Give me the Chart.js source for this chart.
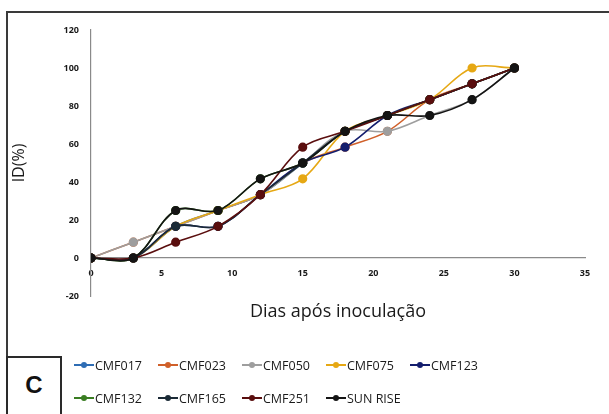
<!DOCTYPE html>
<html><head><meta charset="utf-8">
<script src="https://cdn.jsdelivr.net/npm/chart.js@4/dist/chart.umd.min.js"></script>
<style>
html,body{margin:0;padding:0;background:#fff;}
#wrap{position:relative;width:609px;height:414px;overflow:hidden;background:#fff;}
#frame{position:absolute;left:6px;top:11px;width:700px;height:500px;border-left:2px solid #3a3a3a;border-top:2px solid #3a3a3a;}
#cbox{position:absolute;left:6px;top:356px;width:52px;height:80px;border:2px solid #2a2a2a;background:#fff;}
#cbox span{position:absolute;left:0;width:52px;top:13px;text-align:center;font:bold 24px "Liberation Sans",Arial,sans-serif;color:#111;}
canvas{position:absolute;left:0;top:0;}
.li{position:absolute;height:16px;display:flex;align-items:center;font:12.5px "Open Sans",sans-serif;color:#1a1a1a;white-space:nowrap;}
.li .ln{position:relative;width:20px;height:2px;margin-right:1px;}
.li .dt{position:absolute;left:7px;top:-2px;width:6px;height:6px;border-radius:50%;}
</style></head>
<body>
<div id="wrap">
<div id="frame"></div>
<div id="cbox"><span>C</span></div>
<canvas id="c" width="609" height="414"></canvas>
<div id="legend"></div>
</div>
<script>
const days = [0,3,6,9,12,15,18,21,24,27,30];
const seriesNames = ["CMF017","CMF023","CMF050","CMF075","CMF123","CMF132","CMF165","CMF251","SUN RISE"];
const CMF017  = [0,0,16.67,25,33.33,50,66.67,75,83.33,91.67,100];
const CMF023  = [0,8.33,16.67,25,33.33,50,58.33,66.67,83.33,91.67,100];
const CMF050  = [0,8.33,16.67,25,33.33,50,66.67,66.67,75,83.33,100];
const CMF075  = [0,0,16.67,25,33.33,41.67,66.67,75,83.33,100,100];
const CMF123  = [0,0,16.67,16.67,33.33,50,58.33,75,83.33,91.67,100];
const CMF132  = [0,0,25,25,41.67,50,66.67,75,83.33,91.67,100];
const CMF165  = [0,0,16.67,16.67,33.33,50,66.67,75,83.33,91.67,100];
const CMF251  = [0,0,8.33,16.67,33.33,58.33,66.67,75,83.33,91.67,100];
const SUNRISE = [0,0,25,25,41.67,50,66.67,75,75,83.33,100];
const xTicks = [0,5,10,15,20,25,30,35];
const yTicks = [-20,0,20,40,60,80,100,120];

const values = [CMF017,CMF023,CMF050,CMF075,CMF123,CMF132,CMF165,CMF251,SUNRISE];
const colors = ["#2E6DB4","#D0602A","#9E9E9E","#E6A814","#141E6E","#3A7D22","#1B2A36","#5A0E0E","#141414"];

const datasets = seriesNames.map((n,i)=>({
  label:n,
  order: seriesNames.length - i,
  data: days.map((d,j)=>({x:d,y:values[i][j]})),
  borderColor:colors[i],
  backgroundColor:colors[i],
  pointBackgroundColor:colors[i],
  pointBorderColor:colors[i],
  borderWidth:1.6,
  pointRadius:3.8,
  pointHoverRadius:3.8,
  tension:0.35,
  fill:false
}));

const tickFont = {family:"'Open Sans', sans-serif", size:9, weight:'700'};
new Chart(document.getElementById('c'),{
  type:'line',
  data:{datasets},
  options:{
    responsive:false,
    animation:false,
    layout:{padding:{left:0,top:30,right:24,bottom:118}},
    plugins:{legend:{display:false},tooltip:{enabled:false}},
    scales:{
      x:{type:'linear',min:0,max:35,position:{y:0},
        afterBuildTicks:s=>{s.ticks=xTicks.map(v=>({value:v}));},
        grid:{display:false,drawTicks:false},
        border:{display:true,color:'#8a8a8a',width:1.2},
        ticks:{font:tickFont,color:'#1a1a1a',padding:10,maxRotation:0},
        title:{display:true,text:'Dias após inoculação',font:{family:"'Open Sans', sans-serif",size:18},color:'#1a1a1a',padding:{top:12,bottom:0}}
      },
      y:{min:-20,max:120,
        afterBuildTicks:s=>{s.ticks=yTicks.map(v=>({value:v}));},
        afterFit:s=>{s.width=91;},
        grid:{display:false,drawTicks:false},
        border:{display:true,color:'#8a8a8a',width:1.2},
        ticks:{font:tickFont,color:'#1a1a1a',padding:12},
        title:{display:true,text:'ID(%)',font:{family:"'Open Sans', sans-serif",size:16},color:'#1a1a1a',padding:{top:10,bottom:0}}
      }
    }
  }
});

// legend from series arrays
const lg = document.getElementById('legend');
const lx = [74,158,242,326,410];
const ly = [357,390];
seriesNames.forEach((n,i)=>{
  const row = Math.floor(i/5), col = i%5;
  const d = document.createElement('div');
  d.className='li';
  d.style.left = lx[col]+'px';
  d.style.top = ly[row]+'px';
  d.innerHTML = '<span class="ln" style="background:'+colors[i]+'"><span class="dt" style="background:'+colors[i]+'"></span></span>'+n;
  lg.appendChild(d);
});
</script>
</body></html>
